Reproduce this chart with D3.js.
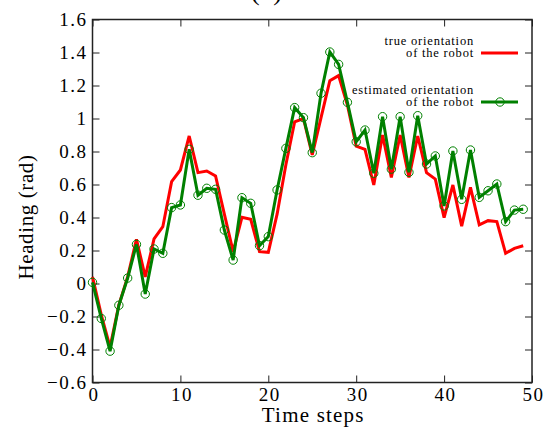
<!DOCTYPE html>
<html>
<head>
<meta charset="utf-8">
<script src="https://cdn.jsdelivr.net/npm/d3@7"></script>
<style>
  html, body { margin: 0; padding: 0; background: #fff; }
  svg text { font-family: "Liberation Serif", "Times New Roman", "DejaVu Serif", serif; fill: #000; }
</style>
</head>
<body>
<svg id="chart" width="546" height="434"></svg>
<script>
const timeSteps = d3.range(0, 50);
const trueOrientation = [0.04, -0.19, -0.385, -0.13, 0.04, 0.268, 0.04, 0.27, 0.344, 0.617,
  0.688, 0.894, 0.672, 0.682, 0.652, 0.42, 0.193, 0.401, 0.389, 0.193,
  0.189, 0.42, 0.72, 0.98, 1.0, 0.779, 1.005, 1.229, 1.26, 1.082,
  0.833, 0.813, 0.597, 0.9, 0.643, 0.9, 0.643, 0.894, 0.672, 0.633,
  0.399, 0.597, 0.348, 0.583, 0.355, 0.381, 0.375, 0.183, 0.213, 0.229];
const estimatedOrientation = [0.007, -0.212, -0.41, -0.132, 0.033, 0.237, -0.064, 0.209, 0.183, 0.46,
  0.476, 0.813, 0.535, 0.577, 0.571, 0.324, 0.142, 0.52, 0.486, 0.229,
  0.284, 0.567, 0.819, 1.066, 1.005, 0.793, 1.153, 1.403, 1.328, 1.098,
  0.859, 0.93, 0.668, 1.011, 0.693, 1.011, 0.674, 1.017, 0.724, 0.773,
  0.47, 0.803, 0.51, 0.809, 0.522, 0.562, 0.603, 0.375, 0.445, 0.45];
const xTicks = [0, 10, 20, 30, 40, 50];
const yTicks = [-0.6, -0.4, -0.2, 0, 0.2, 0.4, 0.6, 0.8, 1, 1.2, 1.4, 1.6];
const seriesNames = ["true orientation|of the robot", "estimated orientation|of the robot"];
const seriesColors = ["#ff0000", "#008000"];

const svg = d3.select("#chart");
const mLeft = 92.5, mRight = 532, mTop = 19.5, mBottom = 382.5;
const x = d3.scaleLinear().domain([0, 50]).range([mLeft, mRight]);
const y = d3.scaleLinear().domain([-0.6, 1.6]).range([mBottom, mTop]);
const tickLen = 7;
const serif = "Liberation Serif, Times New Roman, DejaVu Serif, serif";

// title (mostly clipped at the top edge, as in the reference)
svg.append("text").attr("x", 267).attr("y", -0.5).attr("text-anchor", "middle")
  .attr("font-family", serif).attr("font-size", 26).attr("letter-spacing", 1).text("(a)");

// axes
const fmt = d => d3.format("~g")(d);
const gB = svg.append("g").attr("transform", `translate(0,${mBottom})`)
  .call(d3.axisBottom(x).tickValues(xTicks).tickSize(-tickLen).tickPadding(4).tickFormat(fmt));
const gT = svg.append("g").attr("transform", `translate(0,${mTop})`)
  .call(d3.axisTop(x).tickValues(xTicks).tickSize(-tickLen).tickFormat(""));
const gL = svg.append("g").attr("transform", `translate(${mLeft},0)`)
  .call(d3.axisLeft(y).tickValues(yTicks).tickSize(-tickLen).tickPadding(5).tickFormat(fmt));
const gR = svg.append("g").attr("transform", `translate(${mRight},0)`)
  .call(d3.axisRight(y).tickValues(yTicks).tickSize(-tickLen).tickFormat(""));
[gB, gT, gL, gR].forEach(g => {
  g.attr("font-family", serif);
  g.select(".domain").remove();
  g.selectAll(".tick line").attr("stroke", "#222").attr("stroke-width", 1);
  g.selectAll(".tick text").attr("font-family", serif).attr("font-size", 19)
    .attr("letter-spacing", 1.5).attr("fill", "#000");
});
gB.selectAll(".tick text").attr("dy", "0.75em").attr("dx", 1);
gL.selectAll(".tick text").attr("dy", "0.3em");

// frame
svg.append("rect").attr("x", mLeft).attr("y", mTop).attr("width", mRight - mLeft).attr("height", mBottom - mTop)
  .attr("fill", "none").attr("stroke", "#222").attr("stroke-width", 1.5);

// axis labels
svg.append("text").attr("x", (mLeft + mRight) / 2 + 1).attr("y", 422).attr("text-anchor", "middle")
  .attr("font-family", serif).attr("font-size", 21).attr("letter-spacing", 1.2).text("Time steps");
svg.append("text").attr("transform", `translate(33,${(mTop + mBottom) / 2 + 16}) rotate(-90)`)
  .attr("text-anchor", "middle").attr("font-family", serif).attr("font-size", 21)
  .attr("letter-spacing", 0.6).text("Heading (rad)");

// lines
const line = d3.line().x((d, i) => x(timeSteps[i])).y(d => y(d));
const plot = svg.append("g");
plot.append("path").datum(trueOrientation).attr("d", line)
  .attr("fill", "none").attr("stroke", seriesColors[0]).attr("stroke-width", 3).attr("stroke-linejoin", "miter");
plot.append("path").datum(estimatedOrientation).attr("d", line)
  .attr("fill", "none").attr("stroke", seriesColors[1]).attr("stroke-width", 3).attr("stroke-linejoin", "miter");
plot.selectAll("circle.est").data(estimatedOrientation).enter().append("circle")
  .attr("class", "est").attr("cx", (d, i) => x(timeSteps[i])).attr("cy", d => y(d)).attr("r", 4.2)
  .attr("fill", "none").attr("stroke", seriesColors[1]).attr("stroke-width", 1);

// legend
const legend = svg.append("g");
const legendY = [53, 102];
seriesNames.forEach((name, k) => {
  const lines = name.split("|");
  const ly = legendY[k];
  legend.append("text").attr("x", 474).attr("y", ly - 8.5).attr("text-anchor", "end")
    .attr("font-family", serif).attr("font-size", 12.5).attr("letter-spacing", 0.8).text(lines[0]);
  legend.append("text").attr("x", 474).attr("y", ly + 4).attr("text-anchor", "end")
    .attr("font-family", serif).attr("font-size", 12.5).attr("letter-spacing", 0.8).text(lines[1]);
  legend.append("line").attr("x1", 481).attr("x2", 518).attr("y1", ly).attr("y2", ly)
    .attr("stroke", seriesColors[k]).attr("stroke-width", 3);
  if (k === 1) {
    legend.append("circle").attr("cx", 500).attr("cy", ly).attr("r", 4.2)
      .attr("fill", "none").attr("stroke", seriesColors[k]).attr("stroke-width", 1);
  }
});
</script>
</body>
</html>
